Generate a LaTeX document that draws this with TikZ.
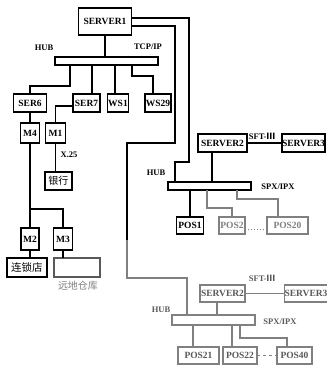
\documentclass[tikz,border=0pt]{standalone}
\usepackage{fontspec}
\setmainfont{Liberation Serif}
\newfontfamily\cjk{Noto Sans CJK SC}
\usetikzlibrary{calc}
\definecolor{fade}{gray}{0.5}
\definecolor{fadedark}{gray}{0.35}
\begin{document}
\begin{tikzpicture}[x=1pt,y=-1pt,
  every node/.style={font=\fontsize{9.5}{10}\selectfont\bfseries},
  unit/.style={draw, line width=1.2pt, inner sep=0pt, outer sep=0pt},
  hubbar/.style={draw, line width=1.1pt, inner sep=0pt, outer sep=0pt},
  wire/.style={line width=1.2pt},
  lbl/.style={font=\fontsize{8.5}{9}\selectfont\bfseries, inner sep=0pt},
  faded/.style={draw=fade, text=fade},
  fadeddark/.style={draw=fade, text=fadedark}]
\useasboundingbox (0,0) rectangle (327,365);

% ---------- left network ----------
\node[unit, minimum width=53pt, minimum height=27pt] (server1) at (105,21.5) {SERVER1};
\node[hubbar, minimum width=103pt, minimum height=8pt] (hub1) at (106.5,61) {};
\node[lbl] (hublbl1) at (44,48) {HUB};
\node[lbl] (tcplbl) at (148,47) {TCP/IP};
\node[unit, minimum width=33pt, minimum height=18pt] (ser6) at (30,103) {SER6};
\node[unit, minimum width=27pt, minimum height=18pt] (ser7) at (86.5,103) {SER7};
\node[unit, minimum width=21pt, minimum height=18pt] (ws1) at (118,103) {WS1};
\node[unit, minimum width=26pt, minimum height=18pt] (ws29) at (158,103) {WS29};
\node[unit, minimum width=19pt, minimum height=20pt] (m4) at (30,133) {M4};
\node[unit, minimum width=20pt, minimum height=20pt] (m1) at (55.5,133) {M1};
\node[lbl] (x25) at (69,155) {X.25};
\node[unit, minimum width=27pt, minimum height=18pt, font=\fontsize{10}{11}\selectfont\cjk] (bank) at (58.5,181) {银行};
\node[unit, minimum width=18pt, minimum height=22pt] (m2) at (30,239) {M2};
\node[unit, minimum width=19pt, minimum height=22pt] (m3) at (63,239) {M3};
\node[unit, minimum width=40pt, minimum height=19pt, font=\fontsize{10.5}{11}\selectfont\cjk] (chain) at (27,267.5) {连锁店};
\node[unit, draw=black!65, minimum width=46pt, minimum height=19pt] (remote) at (77,267.5) {};
\node[text=fade, font=\fontsize{10}{11}\selectfont\cjk, inner sep=0pt] (remotelbl) at (78,286) {远地仓库};

\draw[wire] (server1.south) -- (server1.south |- hub1.north);
\draw[wire] ($(hub1.south west)+(15,0)$) -- ++(0,21) -| (ser6.north);
\draw[wire] ($(hub1.south west)+(37,0)$) -- ($(ser7.north)+(5.5,0)$);
\draw[wire] ($(hub1.south west)+(60,0)$) -- ($(ws1.north)+(-3,0)$);
\draw[wire] ($(hub1.south west)+(77,0)$) -- ++(0,11) -| ($(ws29.north)+(-5,0)$);
\draw[wire] (ser6.south) -- (m4.north);
\draw[wire] ($(ser7.west)+(0,3)$) -| (m1.north);
\draw[wire] (m1.south) -- (m1.south |- bank.north);
\draw[wire] (m4.south) -- (m2.north);
\coordinate (split) at (30,209);
\draw[wire] (split) -| (m3.north);
\draw[wire] (m2.south) -- (m2.south |- chain.north);
\draw[wire] (m3.south) -- (m3.south |- remote.north);

% ---------- upper right network ----------
\node[unit, minimum width=49pt, minimum height=18pt] (server2) at (222.5,143) {SERVER2};
\node[unit, minimum width=43pt, minimum height=18pt] (server3) at (303.5,143) {SERVER3};
\node[lbl] (sft1) at (262,136) {SFT-{\cjk Ⅲ}};
\node[hubbar, minimum width=83pt, minimum height=8pt] (hub2) at (209.5,186) {};
\node[lbl] (hublbl2) at (156,173) {HUB};
\node[lbl] (spx1) at (278,187) {SPX/IPX};
\node[unit, minimum width=27pt, minimum height=17pt] (pos1) at (190,225.5) {POS1};
\node[unit, faded, minimum width=26pt, minimum height=17pt] (pos2) at (232,225.5) {POS2};
\node[unit, faded, minimum width=41pt, minimum height=17pt] (pos20) at (287.5,225.5) {POS20};

\draw[wire] (server2.east) -- (server3.west);
\draw[wire] ($(server2.south)+(-10.5,0)$) -- ($(hub2.north west)+(44,0)$);
\draw[wire] ($(hub2.south west)+(22,0)$) -- (pos1.north);
\draw[wire, draw=fade] ($(hub2.south west)+(39,0)$) -- ++(0,18) -| (pos2.north);
\draw[wire, draw=fade] ($(hub2.south west)+(69,0)$) -- ++(0,9) -| ($(pos20.north)+(-9.5,0)$);
\draw[line width=1pt, draw=fade, dotted] ($(pos2.east)+(0,4)$) -- ($(pos20.west)+(0,4)$);

% ---------- lower right network ----------
\node[unit, fadeddark, minimum width=45pt, minimum height=17pt] (server2b) at (222.5,293.5) {SERVER2};
\node[unit, fadeddark, minimum width=42pt, minimum height=17pt] (server3b) at (306,293.5) {SERVER3};
\node[lbl, text=fadedark] (sft2) at (262,278) {SFT-{\cjk Ⅲ}};
\node[hubbar, draw=fade, minimum width=83pt, minimum height=10pt] (hub3) at (213.5,320) {};
\node[lbl, text=fadedark] (hublbl3) at (161,310) {HUB};
\node[lbl, text=fadedark] (spx2) at (280,322) {SPX/IPX};
\node[unit, fadeddark, minimum width=41pt, minimum height=17pt] (pos21) at (198.5,355.5) {POS21};
\node[unit, fadeddark, minimum width=34pt, minimum height=17pt] (pos22) at (240,355.5) {POS22};
\node[unit, fadeddark, minimum width=35pt, minimum height=17pt] (pos40) at (294.5,355.5) {POS40};

\draw[wire, draw=fade] (server2b.east) -- (server3b.west);
\draw[wire, draw=fade] ($(server2b.south)+(-5.5,0)$) -- ($(hub3.north west)+(45,0)$);
\draw[wire, draw=fade] ($(hub3.south west)+(21,0)$) -- ($(pos21.north)+(-5.5,0)$);
\draw[wire, draw=fade] ($(hub3.south west)+(60,0)$) -- ($(pos22.north)+(-8,0)$);
\draw[wire, draw=fade] ($(hub3.south west)+(68,0)$) -- ++(0,13) -| ($(pos40.north)+(-7.5,0)$);
\draw[line width=1pt, draw=fade, dashed] (pos22.east) -- (pos40.west);

% ---------- trunk lines from SERVER1 ----------
\draw[wire] ($(server1.east)+(0,-3.5)$) -| (189,162) -- (175,162) -- ($(hub2.north west)+(7,0)$);
\coordinate (bendA) at (127,240);
\draw[wire] ($(server1.east)+(0,4.5)$) -| (175,143) -- (127,143) -- (bendA);
\draw[wire, draw=fade] (bendA) -- (127,278) -| ($(hub3.north west)+(15,0)$);
\end{tikzpicture}
\end{document}
